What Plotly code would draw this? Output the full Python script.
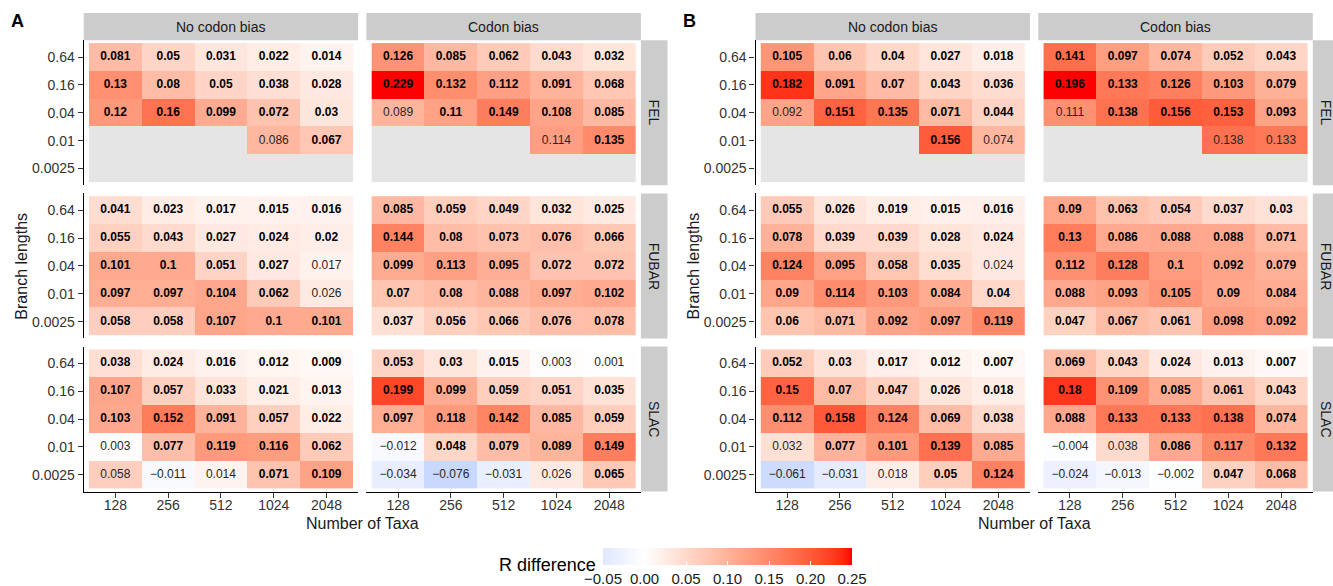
import numpy as np
import plotly.graph_objects as go

# ---------------------------------------------------------------- data
TAXA = ["128", "256", "512", "1024", "2048"]
BRANCH_LENGTHS = ["0.64", "0.16", "0.04", "0.01", "0.0025"]   # top -> bottom
METHODS = ["FEL", "FUBAR", "SLAC"]
BIAS = ["No codon bias", "Codon bias"]
PANELS = ["A", "B"]

# rows follow BRANCH_LENGTHS, columns follow TAXA; None = not estimated
A_FEL_NO = [[0.081, 0.05, 0.031, 0.022, 0.014],
            [0.13, 0.08, 0.05, 0.038, 0.028],
            [0.12, 0.16, 0.099, 0.072, 0.03],
            [None, None, None, 0.086, 0.067],
            [None, None, None, None, None]]
A_FEL_CB = [[0.126, 0.085, 0.062, 0.043, 0.032],
            [0.229, 0.132, 0.112, 0.091, 0.068],
            [0.089, 0.11, 0.149, 0.108, 0.085],
            [None, None, None, 0.114, 0.135],
            [None, None, None, None, None]]
A_FUBAR_NO = [[0.041, 0.023, 0.017, 0.015, 0.016],
              [0.055, 0.043, 0.027, 0.024, 0.02],
              [0.101, 0.1, 0.051, 0.027, 0.017],
              [0.097, 0.097, 0.104, 0.062, 0.026],
              [0.058, 0.058, 0.107, 0.1, 0.101]]
A_FUBAR_CB = [[0.085, 0.059, 0.049, 0.032, 0.025],
              [0.144, 0.08, 0.073, 0.076, 0.066],
              [0.099, 0.113, 0.095, 0.072, 0.072],
              [0.07, 0.08, 0.088, 0.097, 0.102],
              [0.037, 0.056, 0.066, 0.076, 0.078]]
A_SLAC_NO = [[0.038, 0.024, 0.016, 0.012, 0.009],
             [0.107, 0.057, 0.033, 0.021, 0.013],
             [0.103, 0.152, 0.091, 0.057, 0.022],
             [0.003, 0.077, 0.119, 0.116, 0.062],
             [0.058, -0.011, 0.014, 0.071, 0.109]]
A_SLAC_CB = [[0.053, 0.03, 0.015, 0.003, 0.001],
             [0.199, 0.099, 0.059, 0.051, 0.035],
             [0.097, 0.118, 0.142, 0.085, 0.059],
             [-0.012, 0.048, 0.079, 0.089, 0.149],
             [-0.034, -0.076, -0.031, 0.026, 0.065]]

B_FEL_NO = [[0.105, 0.06, 0.04, 0.027, 0.018],
            [0.182, 0.091, 0.07, 0.043, 0.036],
            [0.092, 0.151, 0.135, 0.071, 0.044],
            [None, None, None, 0.156, 0.074],
            [None, None, None, None, None]]
B_FEL_CB = [[0.141, 0.097, 0.074, 0.052, 0.043],
            [0.196, 0.133, 0.126, 0.103, 0.079],
            [0.111, 0.138, 0.156, 0.153, 0.093],
            [None, None, None, 0.138, 0.133],
            [None, None, None, None, None]]
B_FUBAR_NO = [[0.055, 0.026, 0.019, 0.015, 0.016],
              [0.078, 0.039, 0.039, 0.028, 0.024],
              [0.124, 0.095, 0.058, 0.035, 0.024],
              [0.09, 0.114, 0.103, 0.084, 0.04],
              [0.06, 0.071, 0.092, 0.097, 0.119]]
B_FUBAR_CB = [[0.09, 0.063, 0.054, 0.037, 0.03],
              [0.13, 0.086, 0.088, 0.088, 0.071],
              [0.112, 0.128, 0.1, 0.092, 0.079],
              [0.088, 0.093, 0.105, 0.09, 0.084],
              [0.047, 0.067, 0.061, 0.098, 0.092]]
B_SLAC_NO = [[0.052, 0.03, 0.017, 0.012, 0.007],
             [0.15, 0.07, 0.047, 0.026, 0.018],
             [0.112, 0.158, 0.124, 0.069, 0.038],
             [0.032, 0.077, 0.101, 0.139, 0.085],
             [-0.061, -0.031, 0.018, 0.05, 0.124]]
B_SLAC_CB = [[0.069, 0.043, 0.024, 0.013, 0.007],
             [0.18, 0.109, 0.085, 0.061, 0.043],
             [0.088, 0.133, 0.133, 0.138, 0.074],
             [-0.004, 0.038, 0.086, 0.117, 0.132],
             [-0.024, -0.013, -0.002, 0.047, 0.068]]

# 1 = significant (bold label), 0 = not significant
A_FEL_NO_SIG = [[1, 1, 1, 1, 1], [1, 1, 1, 1, 1], [1, 1, 1, 1, 1], [0, 0, 0, 0, 1], [0, 0, 0, 0, 0]]
A_FEL_CB_SIG = [[1, 1, 1, 1, 1], [1, 1, 1, 1, 1], [0, 1, 1, 1, 1], [0, 0, 0, 0, 1], [0, 0, 0, 0, 0]]
A_FUBAR_NO_SIG = [[1, 1, 1, 1, 1], [1, 1, 1, 1, 1], [1, 1, 1, 1, 0], [1, 1, 1, 1, 0], [1, 1, 1, 1, 1]]
A_FUBAR_CB_SIG = [[1, 1, 1, 1, 1], [1, 1, 1, 1, 1], [1, 1, 1, 1, 1], [1, 1, 1, 1, 1], [1, 1, 1, 1, 1]]
A_SLAC_NO_SIG = [[1, 1, 1, 1, 1], [1, 1, 1, 1, 1], [1, 1, 1, 1, 1], [0, 1, 1, 1, 1], [0, 0, 0, 1, 1]]
A_SLAC_CB_SIG = [[1, 1, 1, 0, 0], [1, 1, 1, 1, 1], [1, 1, 1, 1, 1], [0, 1, 1, 1, 1], [0, 0, 0, 0, 1]]
B_FEL_NO_SIG = [[1, 1, 1, 1, 1], [1, 1, 1, 1, 1], [0, 1, 1, 1, 1], [0, 0, 0, 1, 0], [0, 0, 0, 0, 0]]
B_FEL_CB_SIG = [[1, 1, 1, 1, 1], [1, 1, 1, 1, 1], [0, 1, 1, 1, 1], [0, 0, 0, 0, 0], [0, 0, 0, 0, 0]]
B_FUBAR_NO_SIG = [[1, 1, 1, 1, 1], [1, 1, 1, 1, 1], [1, 1, 1, 1, 0], [1, 1, 1, 1, 1], [1, 1, 1, 1, 1]]
B_FUBAR_CB_SIG = [[1, 1, 1, 1, 1], [1, 1, 1, 1, 1], [1, 1, 1, 1, 1], [1, 1, 1, 1, 1], [1, 1, 1, 1, 1]]
B_SLAC_NO_SIG = [[1, 1, 1, 1, 1], [1, 1, 1, 1, 1], [1, 1, 1, 1, 1], [0, 1, 1, 1, 1], [0, 0, 0, 1, 1]]
B_SLAC_CB_SIG = [[1, 1, 1, 1, 1], [1, 1, 1, 1, 1], [1, 1, 1, 1, 1], [0, 0, 1, 1, 1], [0, 0, 0, 1, 1]]

LEGEND_TITLE = "R difference"
LEGEND_BREAKS = [-0.05, 0.00, 0.05, 0.10, 0.15, 0.20, 0.25]
X_TITLE = "Number of Taxa"
Y_TITLE = "Branch lengths"

TABLES = {
    ("A", "FEL", "No codon bias"): (A_FEL_NO, A_FEL_NO_SIG),
    ("A", "FEL", "Codon bias"): (A_FEL_CB, A_FEL_CB_SIG),
    ("A", "FUBAR", "No codon bias"): (A_FUBAR_NO, A_FUBAR_NO_SIG),
    ("A", "FUBAR", "Codon bias"): (A_FUBAR_CB, A_FUBAR_CB_SIG),
    ("A", "SLAC", "No codon bias"): (A_SLAC_NO, A_SLAC_NO_SIG),
    ("A", "SLAC", "Codon bias"): (A_SLAC_CB, A_SLAC_CB_SIG),
    ("B", "FEL", "No codon bias"): (B_FEL_NO, B_FEL_NO_SIG),
    ("B", "FEL", "Codon bias"): (B_FEL_CB, B_FEL_CB_SIG),
    ("B", "FUBAR", "No codon bias"): (B_FUBAR_NO, B_FUBAR_NO_SIG),
    ("B", "FUBAR", "Codon bias"): (B_FUBAR_CB, B_FUBAR_CB_SIG),
    ("B", "SLAC", "No codon bias"): (B_SLAC_NO, B_SLAC_NO_SIG),
    ("B", "SLAC", "Codon bias"): (B_SLAC_CB, B_SLAC_CB_SIG),
}

# ---------------------------------------------------------------- style
W, H = 1333, 586
FONT = "Liberation Sans, Arial, Helvetica, sans-serif"
LOW, MID, HIGH = "#1E90FF", "#FFFFFF", "#FF0000"
NA_FILL = "#E5E5E5"
STRIP_FILL = "#CCCCCC"
TEXT_DARK = "#1A1A1A"
TICK_TEXT = "#333333"

# facet geometry in pixels
PANEL_X = {"A": [(83.7, 358.2), (366.4, 640.9)],
           "B": [(755.5, 1030.0), (1038.3, 1312.8)]}
ROW_STRIP_X = {"A": (640.9, 667.5), "B": (1312.8, 1339.4)}
ROW_Y = [(40.3, 185.3), (193.4, 338.4), (346.6, 491.6)]
COL_STRIP_Y = (13.0, 40.3)


# ---------------------------------------------------------------- colour ramp (CIELAB)
def _hex_rgb(h):
    h = h.lstrip("#")
    return np.array([int(h[i:i + 2], 16) for i in (0, 2, 4)], dtype=float) / 255.0


def _rgb_to_lab(rgb):
    c = np.where(rgb <= 0.04045, rgb / 12.92, ((rgb + 0.055) / 1.055) ** 2.4)
    m = np.array([[0.4124, 0.3576, 0.1805],
                  [0.2126, 0.7152, 0.0722],
                  [0.0193, 0.1192, 0.9505]])
    xyz = m @ c / np.array([0.95047, 1.0, 1.08883])
    f = np.where(xyz > 0.008856, np.cbrt(xyz), 7.787 * xyz + 16 / 116)
    return np.array([116 * f[1] - 16, 500 * (f[0] - f[1]), 200 * (f[1] - f[2])])


def _lab_to_rgb(lab):
    fy = (lab[0] + 16) / 116
    fx = fy + lab[1] / 500
    fz = fy - lab[2] / 200
    f = np.array([fx, fy, fz])
    xyz = np.where(f ** 3 > 0.008856, f ** 3, (f - 16 / 116) / 7.787)
    xyz = xyz * np.array([0.95047, 1.0, 1.08883])
    m = np.array([[3.2406, -1.5372, -0.4986],
                  [-0.9689, 1.8758, 0.0415],
                  [0.0557, -0.2040, 1.0570]])
    c = np.clip(m @ xyz, 0, 1)
    s = np.where(c <= 0.0031308, 12.92 * c, 1.055 * c ** (1 / 2.4) - 0.055)
    r, g, b = (np.clip(s, 0, 1) * 255).round().astype(int)
    return f"rgb({r},{g},{b})"


LAB_LOW, LAB_MID, LAB_HIGH = (_rgb_to_lab(_hex_rgb(c)) for c in (LOW, MID, HIGH))


def ramp(p):
    """Diverging low-mid-high colour at position p in [0, 1] (mid at 0.5)."""
    if p < 0.5:
        t = (0.5 - p) / 0.5
        return _lab_to_rgb(LAB_MID + t * (LAB_LOW - LAB_MID))
    t = (p - 0.5) / 0.5
    return _lab_to_rgb(LAB_MID + t * (LAB_HIGH - LAB_MID))


STOPS = np.linspace(0, 1, 61)
DIVERGING = [[float(p), ramp(p)] for p in STOPS]

LEG_MIN, LEG_MAX = LEGEND_BREAKS[0], LEGEND_BREAKS[-1]
LEG_LIM = max(abs(LEG_MIN), abs(LEG_MAX))
LEGEND_SCALE = [[float(p), ramp(0.5 + (LEG_MIN + p * (LEG_MAX - LEG_MIN)) / (2 * LEG_LIM))]
                for p in STOPS]


def fmt(v):
    s = f"{v:.3f}".rstrip("0").rstrip(".")
    return s.replace("-", "\u2212")


def fmt_break(v):
    return f"{v:.2f}".replace("-", "\u2212")


# ---------------------------------------------------------------- figure
fig = go.Figure()
layout = dict(width=W, height=H,
              margin=dict(l=0, r=0, t=0, b=0, autoexpand=False),
              paper_bgcolor="white", plot_bgcolor="white", showlegend=False,
              font=dict(family=FONT, color=TEXT_DARK))
shapes, annotations = [], []


def px_x(x):
    return x / W


def px_y(y):
    return 1 - y / H


k = 0
for panel in PANELS:
    vals_all = [v for key, (tab, _) in TABLES.items() if key[0] == panel
                for row in tab for v in row if v is not None]
    lim = max(abs(v) for v in vals_all)
    for mi, method in enumerate(METHODS):
        for bi, bias in enumerate(BIAS):
            k += 1
            xa = "x" if k == 1 else f"x{k}"
            ya = "y" if k == 1 else f"y{k}"
            tab, sig = TABLES[(panel, method, bias)]
            x0, x1 = PANEL_X[panel][bi]
            y0, y1 = ROW_Y[mi]
            bottom = mi == len(METHODS) - 1
            left = bi == 0

            missing = [[1 if v is None else None for v in row] for row in tab]
            fig.add_trace(go.Heatmap(
                x=TAXA, y=BRANCH_LENGTHS, z=missing, zmin=0, zmax=1,
                colorscale=[[0, NA_FILL], [1, NA_FILL]], showscale=False,
                hoverinfo="skip", xaxis=xa, yaxis=ya))
            fig.add_trace(go.Heatmap(
                x=TAXA, y=BRANCH_LENGTHS, z=tab, zmin=-lim, zmax=lim,
                colorscale=DIVERGING, showscale=False,
                hoverinfo="skip", xaxis=xa, yaxis=ya))

            tx, ty, tt, tc = [], [], [], []
            for r, b in enumerate(BRANCH_LENGTHS):
                for c, n in enumerate(TAXA):
                    v = tab[r][c]
                    if v is None:
                        continue
                    tx.append(n)
                    ty.append(b)
                    if sig[r][c]:
                        tt.append(f"<b>{fmt(v)}</b>")
                        tc.append("#000000")
                    else:
                        tt.append(fmt(v))
                        tc.append("#262626")
            fig.add_trace(go.Scatter(
                x=tx, y=ty, text=tt, mode="text", textposition="middle center",
                textfont=dict(size=12, color=tc, family=FONT),
                hoverinfo="skip", xaxis=xa, yaxis=ya))

            xkey = "xaxis" if k == 1 else f"xaxis{k}"
            ykey = "yaxis" if k == 1 else f"yaxis{k}"
            layout[xkey] = dict(
                domain=[px_x(x0), px_x(x1)], anchor=ya, type="category",
                categoryorder="array", categoryarray=TAXA, range=[-0.6, 4.6],
                showgrid=False, zeroline=False, fixedrange=True,
                showline=bottom, linecolor="#000000", linewidth=1.2,
                ticks="outside" if bottom else "", ticklen=5, tickwidth=1.1,
                tickcolor="#333333", showticklabels=bottom, ticklabelstandoff=-5,
                tickfont=dict(size=14, color=TICK_TEXT, family=FONT))
            layout[ykey] = dict(
                domain=[px_y(y1), px_y(y0)], anchor=xa, type="category",
                categoryorder="array", categoryarray=BRANCH_LENGTHS[::-1],
                range=[-0.6, 4.6],
                showgrid=False, zeroline=False, fixedrange=True,
                showline=left, linecolor="#000000", linewidth=1.2,
                ticks="outside" if left else "", ticklen=5, tickwidth=1.1,
                tickcolor="#333333", showticklabels=left,
                tickfont=dict(size=14, color=TICK_TEXT, family=FONT))

    # column strips
    for bi, bias in enumerate(BIAS):
        x0, x1 = PANEL_X[panel][bi]
        shapes.append(dict(type="rect", xref="paper", yref="paper",
                           x0=px_x(x0), x1=px_x(x1),
                           y0=px_y(COL_STRIP_Y[1]), y1=px_y(COL_STRIP_Y[0]),
                           fillcolor=STRIP_FILL, line=dict(width=0), layer="below"))
        annotations.append(dict(text=bias, xref="paper", yref="paper",
                                x=px_x((x0 + x1) / 2), y=px_y(sum(COL_STRIP_Y) / 2),
                                showarrow=False, xanchor="center", yanchor="middle",
                                font=dict(size=14, color=TEXT_DARK, family=FONT)))
    # row strips
    sx0, sx1 = ROW_STRIP_X[panel]
    for mi, method in enumerate(METHODS):
        y0, y1 = ROW_Y[mi]
        shapes.append(dict(type="rect", xref="paper", yref="paper",
                           x0=px_x(sx0), x1=px_x(sx1), y0=px_y(y1), y1=px_y(y0),
                           fillcolor=STRIP_FILL, line=dict(width=0), layer="below"))
        annotations.append(dict(text=method, xref="paper", yref="paper",
                                x=px_x((sx0 + sx1) / 2), y=px_y((y0 + y1) / 2),
                                textangle=90, showarrow=False,
                                xanchor="center", yanchor="middle",
                                font=dict(size=14, color=TEXT_DARK, family=FONT)))

    # axis titles and panel tag
    left_x = PANEL_X[panel][0][0]
    right_x = PANEL_X[panel][1][1]
    annotations.append(dict(text=X_TITLE, xref="paper", yref="paper",
                            x=px_x((left_x + right_x) / 2), y=px_y(523),
                            showarrow=False, xanchor="center", yanchor="middle",
                            font=dict(size=16, color=TEXT_DARK, family=FONT)))
    annotations.append(dict(text=Y_TITLE, xref="paper", yref="paper",
                            x=px_x(left_x - 62), y=px_y((ROW_Y[0][0] + ROW_Y[-1][1]) / 2),
                            textangle=-90, showarrow=False,
                            xanchor="center", yanchor="middle",
                            font=dict(size=16, color=TEXT_DARK, family=FONT)))
    annotations.append(dict(text=f"<b>{panel}</b>", xref="paper", yref="paper",
                            x=px_x(left_x - 66), y=px_y(20.5),
                            showarrow=False, xanchor="center", yanchor="middle",
                            font=dict(size=18, color="#000000", family=FONT)))

# colour legend
fig.add_trace(go.Scatter(
    x=[None], y=[None], mode="markers", hoverinfo="skip", xaxis="x", yaxis="y",
    marker=dict(color=[LEG_MIN], cmin=LEG_MIN, cmax=LEG_MAX,
                colorscale=LEGEND_SCALE, showscale=True,
                colorbar=dict(orientation="h", x=px_x(727.5), xanchor="center",
                              y=px_y(548), yanchor="top",
                              len=249, lenmode="pixels",
                              thickness=17, thicknessmode="pixels",
                              xpad=0, ypad=0, outlinewidth=0,
                              tickmode="array", tickvals=LEGEND_BREAKS,
                              ticktext=[fmt_break(b) for b in LEGEND_BREAKS],
                              ticks="inside", ticklen=4, tickwidth=1, tickcolor="white",
                              tickfont=dict(size=15, color=TEXT_DARK, family=FONT)))))
annotations.append(dict(text=LEGEND_TITLE, xref="paper", yref="paper",
                        x=px_x(597.5), y=px_y(565), showarrow=False,
                        xanchor="right", yanchor="middle",
                        font=dict(size=18, color="#000000", family=FONT)))

layout["shapes"] = shapes
layout["annotations"] = annotations
fig.update_layout(**layout)
fig.write_html("out.html")
